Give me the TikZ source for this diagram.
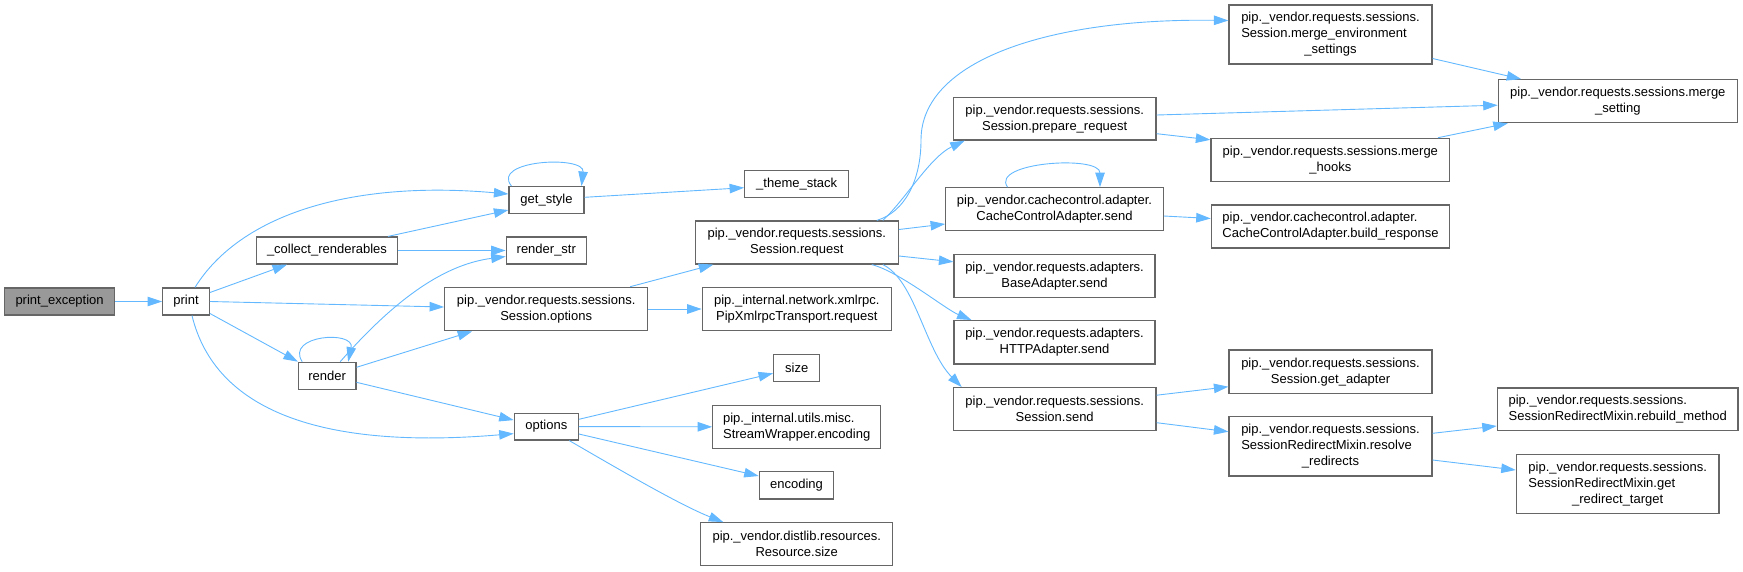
\documentclass[tikz,border=0pt]{standalone}
\usepackage{fontspec}
\setmainfont{Liberation Sans}
\usetikzlibrary{arrows.meta}
\definecolor{edgeblue}{HTML}{63B8FF}
\definecolor{nodeborder}{HTML}{666666}
\definecolor{rootfill}{HTML}{999999}
\begin{document}
\begin{tikzpicture}[x=1pt,y=-1pt,
  box/.style={draw=nodeborder, line width=1.2pt, fill=white, rectangle, inner sep=0pt,
    font=\fontsize{13}{16}\selectfont, align=center, text=black},
  edge/.style={draw=edgeblue, line width=0.9pt, -{Triangle[length=14.5pt,width=9.5pt]}, fill=none}
]
\useasboundingbox (0,0) rectangle (1743,571);

% nodes
\node[box, minimum width=110.3pt, minimum height=27pt, fill=rootfill] (pe) at (59.6,301.5) {print\_exception};
\node[box, minimum width=46.7pt, minimum height=27pt] (pr) at (186,301.5) {print};
\node[box, minimum width=140.4pt, minimum height=27pt] (cr) at (327,250.5) {\_collect\_renderables};
\node[box, minimum width=75pt, minimum height=26.7pt] (gs) at (546.5,200) {get\_style};
\node[box, minimum width=80pt, minimum height=27pt] (rs) at (546.3,250.5) {render\_str};
\node[box, minimum width=203pt, minimum height=43.4pt] (so) at (546.2,309) {pip.\_vendor.requests.sessions.\\Session.options};
\node[box, minimum width=57.4pt, minimum height=27pt] (rd) at (327.2,375.8) {render};
\node[box, minimum width=64pt, minimum height=26.8pt] (op) at (546.3,426.6) {options};
\node[box, minimum width=104pt, minimum height=26.6pt] (ts) at (796.7,184) {\_theme\_stack};
\node[box, minimum width=203pt, minimum height=43pt] (sr) at (796.8,242.5) {pip.\_vendor.requests.sessions.\\Session.request};
\node[box, minimum width=189pt, minimum height=43.4pt] (px) at (796.8,309) {pip.\_internal.network.xmlrpc.\\PipXmlrpcTransport.request};
\node[box, minimum width=46pt, minimum height=27pt] (sz) at (796.7,367.8) {size};
\node[box, minimum width=168pt, minimum height=43pt, align=left] (sw) at (796.7,426.8) {pip.\_internal.utils.misc.\\StreamWrapper.encoding};
\node[box, minimum width=74.4pt, minimum height=27.3pt] (en) at (796.5,485.3) {encoding};
\node[box, minimum width=192pt, minimum height=42.6pt] (rsz) at (796.7,544) {pip.\_vendor.distlib.resources.\\Resource.size};
\node[box, minimum width=203pt, minimum height=59pt] (me) at (1330.5,34.5) {\begin{tabular}{@{}l@{}}pip.\_vendor.requests.sessions.\\Session.merge\_environment\\\multicolumn{1}{@{}c@{}}{\_settings}\end{tabular}};
\node[box, minimum width=202.7pt, minimum height=42.7pt] (pq) at (1054.7,118.7) {pip.\_vendor.requests.sessions.\\Session.prepare\_request};
\node[box, minimum width=238.7pt, minimum height=43pt] (mh) at (1330.3,159.8) {pip.\_vendor.requests.sessions.merge\\\_hooks};
\node[box, minimum width=217.6pt, minimum height=42.6pt] (cs) at (1054.5,209) {pip.\_vendor.cachecontrol.adapter.\\CacheControlAdapter.send};
\node[box, minimum width=238.4pt, minimum height=43pt, align=left] (br) at (1330.5,226.5) {pip.\_vendor.cachecontrol.adapter.\\CacheControlAdapter.build\_response};
\node[box, minimum width=201pt, minimum height=43pt] (ba) at (1054.5,275.8) {pip.\_vendor.requests.adapters.\\BaseAdapter.send};
\node[box, minimum width=201pt, minimum height=43.3pt] (ha) at (1054.5,342.3) {pip.\_vendor.requests.adapters.\\HTTPAdapter.send};
\node[box, minimum width=202.7pt, minimum height=43pt] (ss) at (1054.7,409.2) {pip.\_vendor.requests.sessions.\\Session.send};
\node[box, minimum width=203pt, minimum height=43.3pt] (ga) at (1330.5,371.7) {pip.\_vendor.requests.sessions.\\Session.get\_adapter};
\node[box, minimum width=203pt, minimum height=59.3pt] (rr) at (1330.5,446.3) {\begin{tabular}{@{}l@{}}pip.\_vendor.requests.sessions.\\SessionRedirectMixin.resolve\\\multicolumn{1}{@{}c@{}}{\_redirects}\end{tabular}};
\node[box, minimum width=239pt, minimum height=43pt] (ms) at (1617.8,101.2) {pip.\_vendor.requests.sessions.merge\\\_setting};
\node[box, minimum width=240.7pt, minimum height=42.7pt, align=left] (rm) at (1617.7,409.3) {pip.\_vendor.requests.sessions.\\SessionRedirectMixin.rebuild\_method};
\node[box, minimum width=202.7pt, minimum height=59pt] (gt) at (1617.7,483.8) {\begin{tabular}{@{}l@{}}pip.\_vendor.requests.sessions.\\SessionRedirectMixin.get\\\multicolumn{1}{@{}c@{}}{\_redirect\_target}\end{tabular}};

% edges
\draw[edge] (pe.east) -- (pr.west);
\draw[edge] ([xshift=9pt]pr.north) .. controls (240,215) and (350,180) .. ([yshift=6pt]gs.west);
\draw[edge] ([xshift=61pt]cr.north) -- ([yshift=-10pt]gs.west);
\draw[edge] (cr.east) -- (rs.west);
\draw[edge] ([yshift=9pt]pr.east) -- ([xshift=-40pt]cr.south);
\draw[edge] (pr.east) -- ([yshift=2pt]so.west);
\draw[edge] ([yshift=-12pt]pr.east) -- (rd.north west);
\draw[edge] ([xshift=6pt]pr.south) .. controls (215,410) and (320,450) .. ([yshift=-7pt]op.west);
\draw[edge] ([xshift=-25pt]rd.north) .. controls (285,335) and (355,330) .. ([xshift=21pt]rd.north);
\draw[edge] ([xshift=13pt]rd.north) .. controls (390,305) and (440,265) .. ([yshift=-6pt]rs.west);
\draw[edge] ([yshift=8.5pt]rd.east) -- ([xshift=-74pt]so.south);
\draw[edge] ([yshift=-6.5pt]rd.east) -- ([yshift=6.5pt]op.west);
\draw[edge] ([xshift=-35pt]gs.north) .. controls (490,160) and (585,155) .. ([xshift=35pt]gs.north);
\draw[edge] ([yshift=2.7pt]gs.east) -- ([yshift=-3.7pt]ts.west);
\draw[edge] ([xshift=84pt]so.north) -- ([xshift=-83.5pt]sr.south);
\draw[edge] (so.east) -- (px.west);
\draw[edge] ([xshift=80pt]sr.north) .. controls (905,212) and (921,180) .. (921,140) .. controls (921,60) and (1050,18) .. ([yshift=14pt]me.west);
\draw[edge] ([xshift=86pt]sr.north) .. controls (905,200) and (930,157) .. ([xshift=-90pt]pq.south);
\draw[edge] ([yshift=13pt]sr.east) -- ([yshift=-15pt]cs.west);
\draw[edge] ([yshift=-13.5pt]sr.east) -- ([yshift=14pt]ba.west);
\draw[edge] ([xshift=75pt]sr.south) .. controls (900,272) and (945,309) .. ([xshift=-83pt]ha.north);
\draw[edge] ([xshift=86pt]sr.south) .. controls (915,280) and (925,350) .. ([xshift=-93pt]ss.north);
\draw[edge] ([yshift=3.7pt]pq.east) -- ([yshift=-4pt]ms.west);
\draw[edge] ([yshift=-15pt]pq.east) -- ([yshift=20pt]mh.west);
\draw[edge] ([xshift=-47pt]cs.north) .. controls (990,162) and (1100,155) .. ([xshift=45.5pt]cs.north);
\draw[edge] ([yshift=-7pt]cs.east) -- ([yshift=8pt]br.west);
\draw[edge] ([yshift=-24pt]me.east) -- ([xshift=-96.5pt]ms.north);
\draw[edge] ([xshift=107.7pt]mh.north) -- ([xshift=-110pt]ms.south);
\draw[edge] ([yshift=14pt]ss.east) -- ([yshift=-15pt]ga.west);
\draw[edge] ([yshift=-13.5pt]ss.east) -- ([yshift=14.6pt]rr.west);
\draw[edge] ([yshift=13pt]rr.east) -- ([yshift=-16.7pt]rm.west);
\draw[edge] ([yshift=-13.7pt]rr.east) -- ([yshift=13.8pt]gt.west);
\draw[edge] ([yshift=7.3pt]op.east) -- ([yshift=-5.5pt]sz.west);
\draw[edge] (op.east) -- (sw.west);
\draw[edge] ([yshift=-7.4pt]op.east) -- ([yshift=9.3pt]en.west);
\draw[edge] ([xshift=23pt]op.south) .. controls (620,470) and (680,505) .. ([xshift=-73.4pt]rsz.north);
\end{tikzpicture}
\end{document}
